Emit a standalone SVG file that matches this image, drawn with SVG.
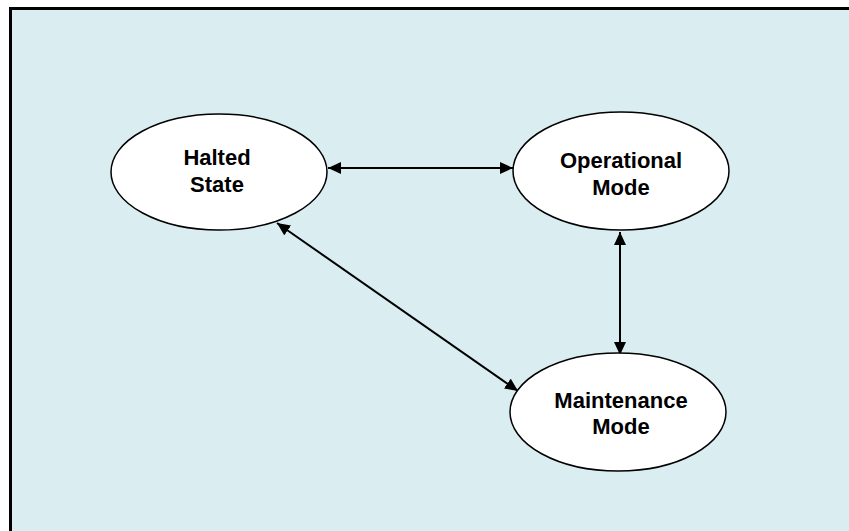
<svg xmlns="http://www.w3.org/2000/svg" width="849" height="531" viewBox="0 0 849 531">
<style>
.node ellipse{fill:#ffffff;stroke:#000000;stroke-width:1.5}
.node text{font-family:"Liberation Sans",Arial,sans-serif;font-weight:bold;font-size:22px;fill:#000000;text-anchor:middle}
.conn line{stroke:#000000;stroke-width:2;marker-start:url(#ah);marker-end:url(#ah)}
</style>
<defs>
<marker id="ah" markerUnits="userSpaceOnUse" markerWidth="13" markerHeight="12" refX="13" refY="6" orient="auto-start-reverse" viewBox="0 0 13 12">
<path d="M0,0 L13,6 L0,12 z" fill="#000000"/>
</marker>
</defs>
<rect x="10.5" y="8.5" width="900" height="600" fill="#daedf0" stroke="#000000" stroke-width="3"/>
<g class="conn" id="connectors">
<line x1="328" y1="168" x2="513" y2="168"/>
<line x1="620" y1="232" x2="620" y2="355"/>
<line x1="277" y1="223" x2="518" y2="391"/>
</g>
<g class="node" id="halted">
<ellipse cx="219" cy="172" rx="108" ry="58"/>
<text x="217" y="165">Halted</text>
<text x="217" y="192">State</text>
</g>
<g class="node" id="operational">
<ellipse cx="621" cy="171" rx="108" ry="59"/>
<text x="621" y="168">Operational</text>
<text x="621" y="195">Mode</text>
</g>
<g class="node" id="maintenance">
<ellipse cx="618" cy="412" rx="108" ry="59"/>
<text x="621" y="408">Maintenance</text>
<text x="621" y="434">Mode</text>
</g>
</svg>
